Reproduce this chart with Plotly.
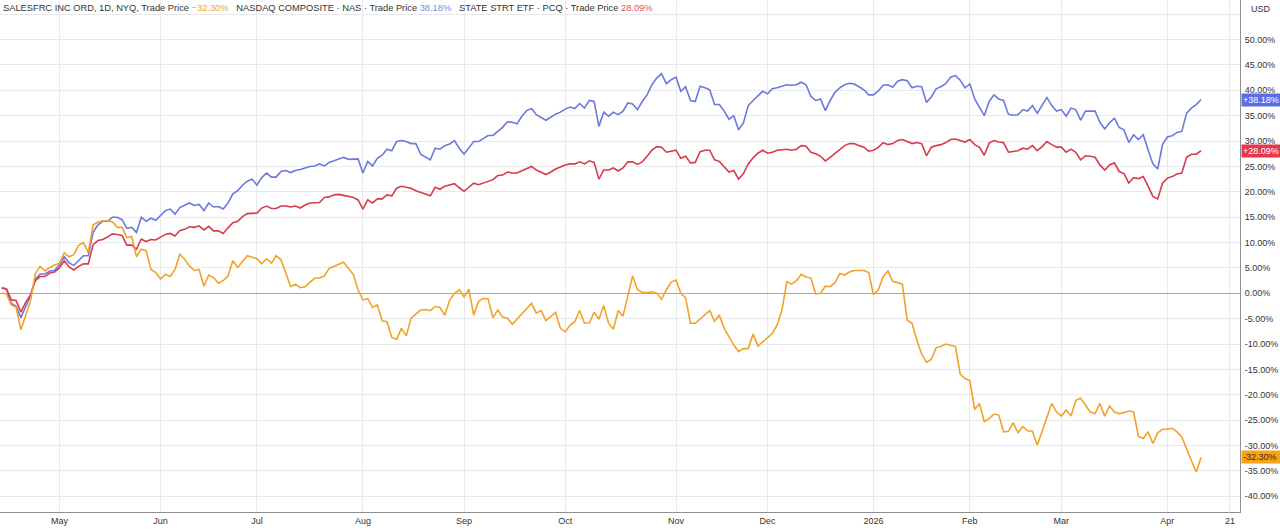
import pandas as pd
import plotly.graph_objects as go

# ---------------- data ----------------
holidays = ["2025-04-18", "2025-05-26", "2025-06-19", "2025-07-04", "2025-09-01",
            "2025-11-27", "2025-12-25", "2026-01-01", "2026-01-19", "2026-02-16",
            "2026-04-03"]
dates = pd.bdate_range("2025-04-14", "2026-04-13", freq="C", holidays=holidays)

crm = [
    0.0, -0.1, -2.3, -2.7, -7.2, -4.3, -1.5, 3.9, 5.3, 4.4, 5.1, 5.6,
    5.9, 8.0, 7.2, 7.6, 9.5, 10.0, 8.0, 13.5, 14.0, 14.3, 14.3, 14.1, 13.0, 13.0,
    11.0, 11.2, 7.2, 8.7, 8.4, 4.7, 4.1, 2.8, 3.75, 3.3, 4.7, 7.7, 6.7, 5.4,
    4.5, 4.7, 1.4, 3.6, 3.1, 2.0, 2.5, 3.4, 6.4, 5.1, 6.25, 7.4, 7.1, 6.8,
    5.8, 6.8, 5.9, 7.4, 6.6, 3.8, 1.3, 1.8, 1.1, 1.3,
    2.1, 3.0, 3.0, 3.4, 4.9, 5.3, 5.8, 6.1, 4.9, 3.75,
    0.7, -1.3, -1.0, -2.8, -2.3, -5.4, -5.6, -8.7, -9.1, -6.9,
    -8.4, -4.9, -4.1, -3.3, -3.2, -3.4, -2.6, -2.8, -4.3, -1.4,
    0.0, 0.7, -0.7, 0.8, -4.3, -1.6, -1.0, -1.1, -4.8, -3.3,
    -4.7, -4.9, -6.1, -5.1, -4.1, -3.2, -2.0, -3.9, -3.4, -5.4,
    -4.5, -3.75, -6.9, -7.6, -6.25, -5.6, -3.4, -5.9, -5.8, -3.75,
    -5.1, -2.4, -5.9, -7.1, -3.4,
    -4.5, -0.5, 3.4, 0.7, 0.2, 0.1, 0.3, 0.0, -1.2, 0.7,
    2.2, 2.6, 0.0, -0.9, -5.9, -5.9, -5.1, -4.3, -3.4, -5.5,
    -4.3, -6.9, -8.6, -10.2, -11.5, -10.9, -10.9, -8.0, -10.4, -9.5,
    -8.75, -7.9, -6.25, -3.3, 2.3, 1.8, 2.5, 3.75, 3.2, 3.0,
    -0.1, 0.0, 1.4, 1.3, 2.1, 3.9, 3.6, 4.2, 4.5, 4.5,
    4.5, 4.1, -0.3, 0.7, 3.3, 4.4, 2.3, 2.1, 1.8, -5.3,
    -5.9, -9.2, -12.0, -13.6,
    -13.0, -10.7, -10.5, -10.0, -10.2, -10.5, -15.9, -16.8, -17.2, -22.9,
    -21.7, -25.3, -24.7, -23.8, -24.0, -27.3, -27.2, -25.5, -27.5, -26.3,
    -27.1, -27.2, -29.9, -27.3, -24.7, -21.7, -23.4, -24.2, -23.0, -24.2,
    -21.1, -20.7, -22.0, -23.4, -23.7, -21.7, -24.2, -22.2, -23.4, -23.7,
    -23.5, -23.2, -23.4, -28.2, -28.6, -27.3, -29.6, -27.5, -26.8, -26.8,
    -26.6, -27.3, -28.3, -30.8, -33.0, -35.2, -32.3,
]

nasdaq = [
    1.0, 0.8, -2.0, -2.5, -4.8, -2.5, -0.5, 2.8, 3.8, 3.8, 4.4, 4.5,
    5.6, 7.2, 6.0, 5.5, 6.5, 7.4, 7.4, 12.0, 13.5, 14.2, 14.2, 15.0, 15.0, 14.5,
    12.8, 13.0, 12.0, 15.0, 14.2, 14.8, 14.4, 15.4, 16.3, 16.6, 15.6, 16.9, 17.3, 17.8,
    17.3, 17.5, 16.3, 17.8, 17.0, 17.1, 16.6, 17.8, 19.6, 20.2, 21.3, 22.1, 22.5, 21.3,
    22.8, 23.7, 22.9, 22.9, 24.0, 24.2, 23.8, 24.2, 24.4, 24.7,
    25.0, 25.1, 25.5, 25.1, 25.8, 26.1, 26.4, 26.8, 26.4, 26.5,
    26.5, 23.7, 26.0, 25.1, 26.6, 27.2, 28.4, 28.1, 29.9, 30.1,
    29.9, 29.5, 29.5, 27.4, 26.8, 26.3, 28.6, 28.4, 29.1, 29.4,
    30.1, 28.6, 27.4, 28.6, 29.9, 29.9, 30.5, 31.1, 31.1, 31.9,
    32.7, 33.8, 33.7, 33.4, 34.9, 36.0, 36.4, 35.2, 34.7, 34.1,
    34.7, 35.3, 35.7, 36.3, 36.7, 36.4, 37.4, 36.5, 38.0, 37.8,
    32.9, 35.7, 34.9, 35.7, 35.2,
    35.9, 37.5, 37.3, 36.2, 37.8, 39.1, 41.1, 42.4, 43.3, 41.3,
    42.1, 42.6, 39.8, 40.7, 38.0, 37.8, 40.8, 40.5, 40.1, 37.2,
    37.2, 35.9, 34.3, 35.0, 32.2, 33.6, 37.0, 38.0, 38.9, 39.8,
    39.3, 40.3, 40.5, 40.8, 41.1, 41.0, 41.1, 41.6, 41.1, 38.8,
    38.0, 38.3, 36.0, 38.0, 39.6, 40.5, 41.1, 41.4, 41.25, 40.7,
    40.1, 39.1, 39.1, 39.9, 41.0, 41.1, 40.6, 41.8, 42.1, 41.9,
    40.5, 40.8, 40.7, 37.6,
    38.7, 40.3, 40.7, 41.3, 42.6, 42.9, 42.0, 40.5, 41.25, 38.3,
    36.6, 35.0, 37.8, 39.1, 38.3, 38.0, 35.3, 35.1, 35.2, 36.2,
    35.9, 37.0, 35.5, 37.0, 38.6, 37.0, 35.9, 36.2, 34.9, 36.5,
    36.2, 34.1, 35.9, 35.9, 35.9, 33.7, 32.4, 33.6, 34.5, 32.7,
    32.2, 29.7, 31.25, 30.3, 31.25, 28.3, 25.5, 24.5, 29.3, 30.8,
    31.05, 31.7, 31.9, 35.5, 36.5, 37.2, 38.18,
]

etf = [
    1.1, 0.9, -1.3, -1.4, -3.7, -1.8, -0.3, 2.5, 3.3, 3.3, 4.0, 4.2,
    5.0, 6.4, 5.2, 4.6, 5.3, 5.8, 5.8, 9.6, 10.4, 10.6, 11.1, 11.7, 11.6, 11.4,
    9.5, 9.5, 8.7, 10.7, 10.2, 10.6, 10.5, 11.0, 11.6, 11.8, 11.3, 12.4, 12.6, 13.1,
    13.0, 13.3, 12.5, 13.2, 12.3, 12.3, 11.8, 12.9, 13.9, 14.2, 15.1, 15.7, 15.8, 15.8,
    16.8, 17.2, 16.7, 16.7, 17.2, 17.2, 17.0, 17.2, 16.8, 17.4,
    17.8, 17.8, 17.9, 18.9, 19.0, 19.4, 19.5, 19.3, 19.1, 18.9,
    18.4, 16.6, 18.4, 17.8, 18.6, 18.6, 19.4, 19.2, 20.7, 21.1,
    20.9, 20.7, 20.2, 19.9, 19.5, 19.2, 20.9, 20.5, 21.1, 21.4,
    21.6, 20.8, 20.1, 20.9, 21.7, 21.4, 21.7, 22.0, 22.4, 23.2,
    23.3, 23.9, 23.7, 23.7, 24.1, 24.5, 25.0, 24.3, 23.8, 23.4,
    23.9, 24.5, 24.9, 25.3, 25.5, 25.5, 25.9, 25.5, 26.1, 25.8,
    22.5, 24.3, 24.3, 24.7, 24.1,
    24.7, 25.9, 25.9, 25.4, 25.9, 27.0, 28.2, 28.9, 28.8, 27.8,
    28.0, 28.2, 26.6, 27.0, 25.7, 25.8, 27.9, 28.2, 28.2, 26.3,
    26.0, 25.0, 23.9, 24.2, 22.5, 23.6, 25.5, 26.7, 27.6, 28.2,
    27.6, 27.8, 28.2, 28.3, 28.4, 28.2, 28.4, 29.1, 29.0, 27.8,
    27.5, 27.0, 26.1, 26.8, 27.6, 28.4, 29.1, 29.5, 29.5, 29.1,
    28.8, 28.0, 28.2, 28.75, 29.7, 29.3, 29.5, 30.1, 30.3, 29.9,
    29.5, 29.7, 29.5, 27.1,
    28.8, 29.1, 29.3, 29.7, 30.3, 30.4, 30.1, 29.8, 30.3, 29.3,
    28.75, 27.2, 29.6, 30.1, 29.8, 29.7, 27.8, 27.9, 28.1, 28.6,
    28.4, 29.1, 28.1, 28.9, 29.9, 29.3, 28.8, 28.8, 27.8, 28.4,
    27.8, 26.3, 27.1, 27.0, 26.8, 25.3, 24.3, 25.3, 25.7, 24.0,
    23.6, 21.7, 22.8, 22.6, 23.0, 21.1, 19.1, 18.6, 21.7, 22.7,
    23.0, 23.5, 23.7, 26.8, 27.4, 27.4, 28.09,
]

tick_dates = ["2025-05-01", "2025-06-02", "2025-07-01", "2025-08-01", "2025-09-02",
              "2025-10-01", "2025-11-03", "2025-12-01", "2026-01-02", "2026-02-02",
              "2026-03-02", "2026-04-01", "2026-04-21"]
tick_labels = ["May", "Jun", "Jul", "Aug", "Sep", "Oct", "Nov", "Dec", "2026",
               "Feb", "Mar", "Apr", "21"]

y_ticks = list(range(-40, 60, 5))
y_labels = [("" if v == 55 else f"{v:.2f}%") for v in y_ticks]

C_ORANGE = "#f2a22a"
C_BLUE = "#6b79dc"
C_RED = "#d83a4e"

FONT = "Liberation Sans, Arial, sans-serif"
TXT = "#333333"
FS = 9

fig = go.Figure()
series = [
    ("SALESFRC INC ORD", crm, C_ORANGE),
    ("NASDAQ COMPOSITE", nasdaq, C_BLUE),
    ("STATE STRT ETF", etf, C_RED),
]
for name, vals, col in [series[1], series[2], series[0]]:
    fig.add_trace(go.Scatter(x=dates[:len(vals)], y=vals, mode="lines", name=name,
                             line=dict(color=col, width=1.6), hoverinfo="skip"))

fig.update_layout(
    width=1280, height=530,
    margin=dict(l=0, r=40, t=0, b=18),
    paper_bgcolor="white", plot_bgcolor="white",
    showlegend=False,
    font=dict(family=FONT, size=FS, color=TXT),
    xaxis=dict(
        range=["2025-04-11 16:00", "2026-04-23 02:00"],
        rangebreaks=[dict(bounds=["sat", "mon"]), dict(values=holidays)],
        tickmode="array", tickvals=tick_dates, ticktext=tick_labels,
        showgrid=True, gridcolor="#e9e9ec", gridwidth=1,
        showline=True, linecolor="#8f8f8f", linewidth=1,
        ticks="", tickfont=dict(size=FS, color=TXT), ticklabelstandoff=0,
        zeroline=False,
    ),
    yaxis=dict(
        side="right", range=[-43.1, 57.8],
        tickmode="array", tickvals=y_ticks, ticktext=y_labels,
        showgrid=True, gridcolor="#e9e9ec", gridwidth=1,
        zeroline=True, zerolinecolor="#a6a6a6", zerolinewidth=1,
        showline=True, linecolor="#8f8f8f", linewidth=1,
        ticks="", ticklabelstandoff=2,
        tickfont=dict(size=FS, color=TXT),
    ),
)

HFS = 9.3
header = ("SALESFRC INC ORD, 1D, NYQ, Trade Price "
          f"<span style='color:{C_ORANGE}'>\u221232.30%</span>"
          "   NASDAQ COMPOSITE · NAS · Trade Price "
          f"<span style='color:#7f8ce6'>38.18%</span>"
          "   STATE STRT ETF · PCQ · Trade Price "
          f"<span style='color:#e0505f'>28.09%</span>")
fig.add_annotation(text=header, xref="paper", yref="paper", x=0, y=1,
                   xanchor="left", yanchor="top", xshift=1, yshift=-1,
                   showarrow=False, font=dict(family=FONT, size=HFS, color=TXT))
fig.add_annotation(text="USD", xref="paper", yref="paper", x=1, y=1,
                   xanchor="left", yanchor="top", xshift=9, yshift=-2,
                   showarrow=False, font=dict(family=FONT, size=FS, color=TXT))

badges = [(nasdaq[-1], "+38.18%", "#5a6ee8", "white"),
          (etf[-1], "+28.09%", "#e5384b", "white"),
          (crm[-1], "-32.30%", "#f7a21b", "#3b2a10")]
for val, txt, bg, fc in badges:
    fig.add_annotation(text=txt, xref="paper", yref="y", x=1, y=val,
                       xanchor="left", yanchor="middle", xshift=1,
                       showarrow=False, bgcolor=bg, width=37, align="left",
                       borderpad=1, font=dict(family=FONT, size=FS, color=fc))

fig.write_html("out.html", config={"displayModeBar": False})

# remove the browser's default 8px body margin so the figure sits at (0, 0)
with open("out.html", encoding="utf-8") as f:
    html = f.read()
html = html.replace("<body>", '<body style="margin:0;padding:0;">', 1)
with open("out.html", "w", encoding="utf-8") as f:
    f.write(html)
